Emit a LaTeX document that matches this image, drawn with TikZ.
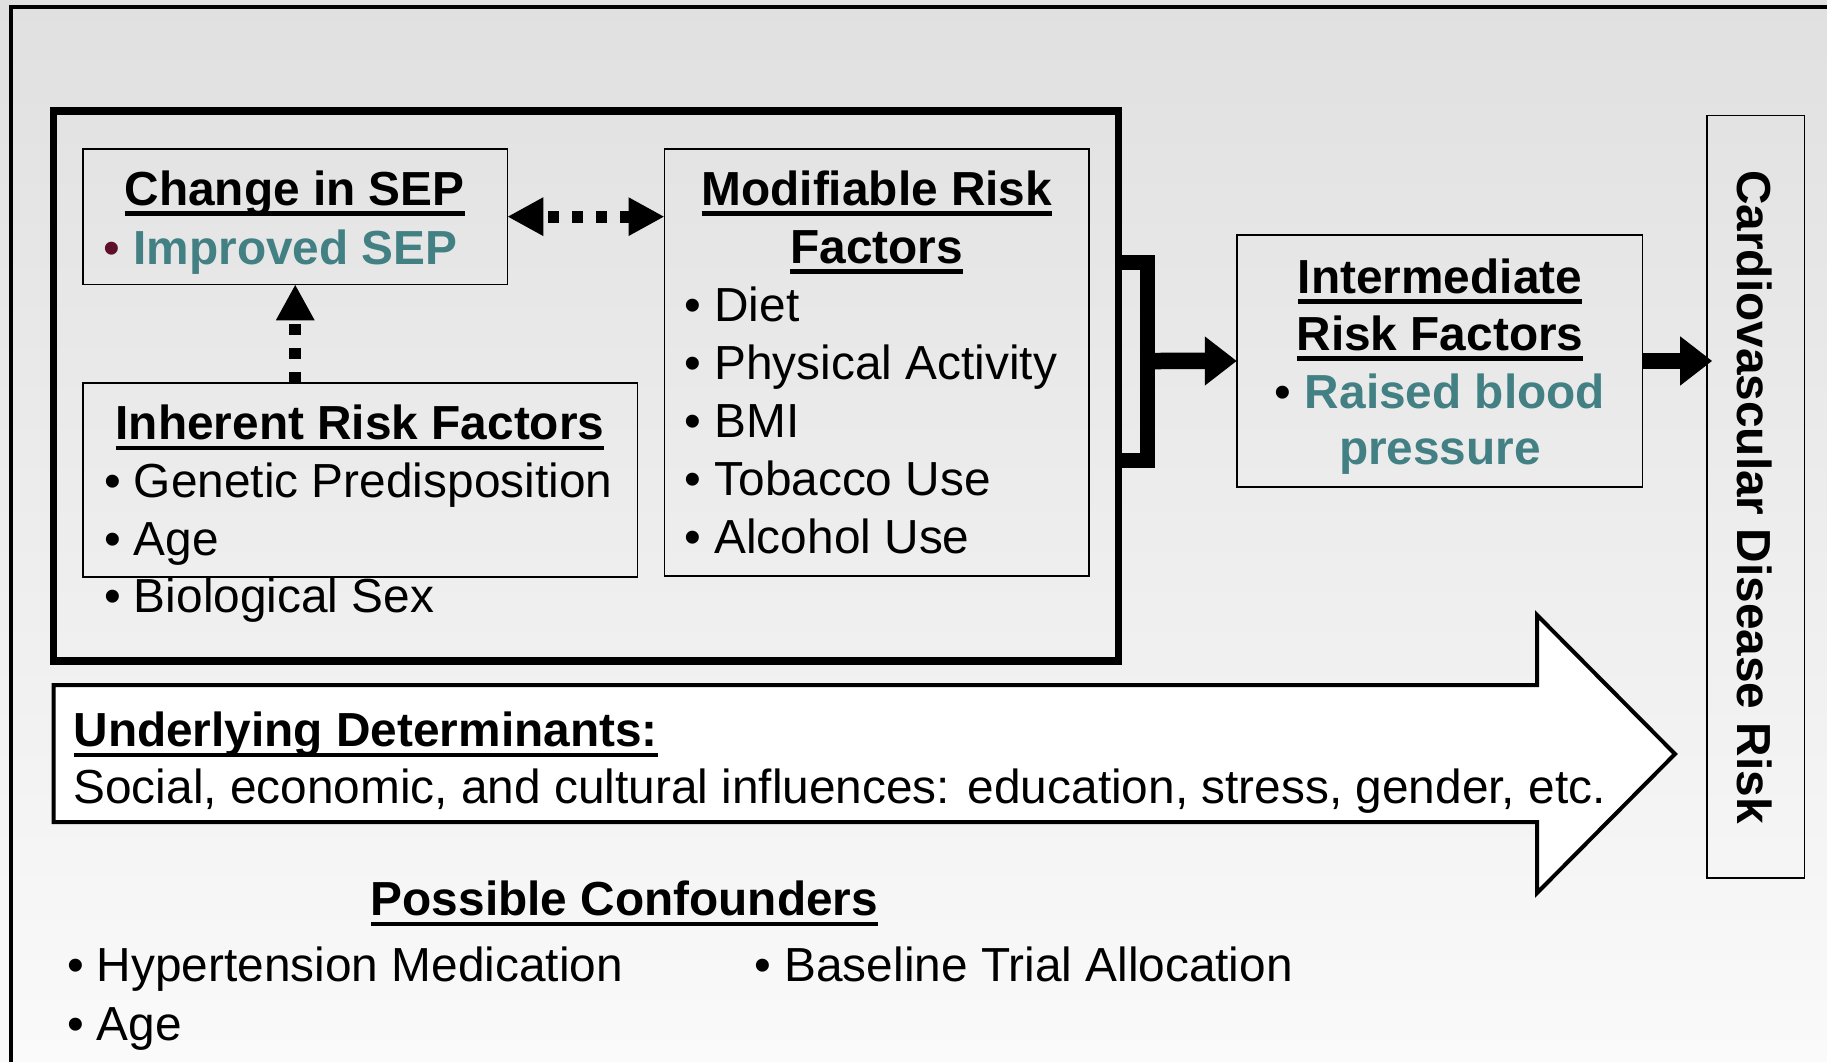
\documentclass[tikz,border=0pt]{standalone}
\usepackage{fontspec}
\setmainfont{Liberation Sans}
\usetikzlibrary{arrows.meta,fit}
\definecolor{bgtop}{HTML}{E0E0E0}
\definecolor{bgbot}{HTML}{FAFAFA}
\definecolor{septeal}{RGB}{66,128,132}
\definecolor{bulred}{RGB}{94,16,42}
\newcommand{\fs}{\fontsize{23.9pt}{28pt}\selectfont}
\newcommand{\ulnode}[1]{\draw[ulline] ([yshift=-4.175pt]#1.base west) -- ([yshift=-4.175pt]#1.base east);}
\begin{document}
\begin{tikzpicture}[x=0.5pt,y=-0.5pt,
  every node/.style={inner sep=0pt, outer sep=0pt, font=\fs},
  box/.style={draw=black, line width=0.8pt, inner sep=0pt},
  bigbox/.style={draw=black, line width=3.75pt, inner sep=0pt},
  txt/.style={anchor=base west},
  ctxt/.style={anchor=base},
  ttl/.style={font=\fs\bfseries},
  ulline/.style={line width=2.35pt},
  dasharrow/.style={line width=6pt, dash pattern=on 5.5pt off 6.5pt, dash phase=8.65pt},
  tipd/.tip={Triangle[length=18pt,width=18pt]},
  solidarrow/.style={line width=8.25pt, -{Triangle[length=16pt,width=23.5pt]}},
  blockarrow/.style={draw=black, line width=2pt, fill=white, line join=miter},
  bracket/.style={draw=black, line width=7.5pt, line join=miter}]
\shade[top color=bgtop, bottom color=bgbot] (0,0) rectangle (1827,1061);
\useasboundingbox (0,0) rectangle (1827,1061);
\clip (0,0) rectangle (1827,1061);
% outer frame
\draw[line width=2pt] (11,1100) -- (11,7) -- (1860,7);
% boxes
\node[bigbox, fit={(53.5,111) (1118.5,661)}] (outer) {};
\node[box, fit={(83.2,149) (507.3,284.3)}] (sep) {};
\node[box, fit={(83,382.7) (637.5,576.7)}] (inh) {};
\node[box, fit={(664.5,149) (1089,575.7)}] (mod) {};
\node[box, fit={(1236.8,235.2) (1642.4,486.7)}] (int) {};
\node[box, fit={(1707.2,115.3) (1804.4,878)}] (cvd) {};
% block arrow
\draw[blockarrow] (53.5,685) -- (1537,685) -- (1537,615) -- (1675,754) -- (1537,893) -- (1537,822) -- (53.5,822) -- cycle;
% bracket
\draw[bracket] (1118.5,262.5) -- (1147.5,262.5) -- (1147.5,460) -- (1118.5,460);
\coordinate (brk) at (1147.5,361);
% connectors
\draw[dasharrow, tipd-tipd] (sep.east) -- (sep.east -| mod.west);
\draw[dasharrow, dash phase=0pt, -tipd] (sep.south |- inh.north) -- (sep.south);
\draw[solidarrow] (brk) -- (int.west);
\draw[solidarrow, shorten >=-2.5pt] (int.east) -- (int.east -| cvd.west);
% texts: Change in SEP
\node[ctxt, ttl] (sepT) at (294.6,205) {Change in SEP};
\node[txt] (sepB) at (103.5,264.5) {\textcolor{bulred}{•} \textcolor{septeal}{\textbf{Improved SEP}}};
% Inherent
\node[ctxt, ttl] (inhT) at (360,439.5) {Inherent Risk Factors};
\node[txt] (inh1) at (104,497.5) {• Genetic Predisposition};
\node[txt] (inh2) at (104,555.5) {• Age};
\node[txt] (inh3) at (104,612.5) {• Biological Sex};
% Modifiable
\node[ctxt, ttl] (modT1) at (876.8,205) {Modifiable Risk};
\node[ctxt, ttl] (modT2) at (876.8,263) {Factors};
\node[txt] (mod1) at (684.5,321.5) {• Diet};
\node[txt] (mod2) at (684.5,379.5) {• Physical Activity};
\node[txt] (mod3) at (684.5,437.5) {• BMI};
\node[txt] (mod4) at (684.5,495) {• Tobacco Use};
\node[txt] (mod5) at (684.5,553) {• Alcohol Use};
% Intermediate
\node[ctxt, ttl] (intT1) at (1440,293) {Intermediate};
\node[ctxt, ttl] (intT2) at (1440,350) {Risk Factors};
\node[ctxt] (int1) at (1440,408.5) {• \textcolor{septeal}{\textbf{Raised blood}}};
\node[ctxt] (int2) at (1440,464) {\textcolor{septeal}{\textbf{pressure}}};
% CVD
\node[rotate=-90, ttl] (cvdT) at (1755,497) {Cardiovascular Disease Risk};
% Underlying determinants
\node[txt, ttl] (udT) at (73.5,746.5) {Underlying Determinants:};
\node[txt] (udS) at (73.5,803.5) {Social, economic, and cultural influences: education, stress, gender, etc.};
% Confounders
\node[ctxt, ttl] (pcT) at (624.5,915.5) {Possible Confounders};
\node[txt] (pc1) at (67,981.5) {• Hypertension Medication};
\node[txt] (pc2) at (754.5,981.5) {• Baseline Trial Allocation};
\node[txt] (pc3) at (67,1040) {• Age};
% underlines
\ulnode{sepT}
\ulnode{inhT}
\ulnode{modT1}
\ulnode{modT2}
\ulnode{intT1}
\ulnode{intT2}
\ulnode{udT}
\ulnode{pcT}
\end{tikzpicture}
\end{document}
